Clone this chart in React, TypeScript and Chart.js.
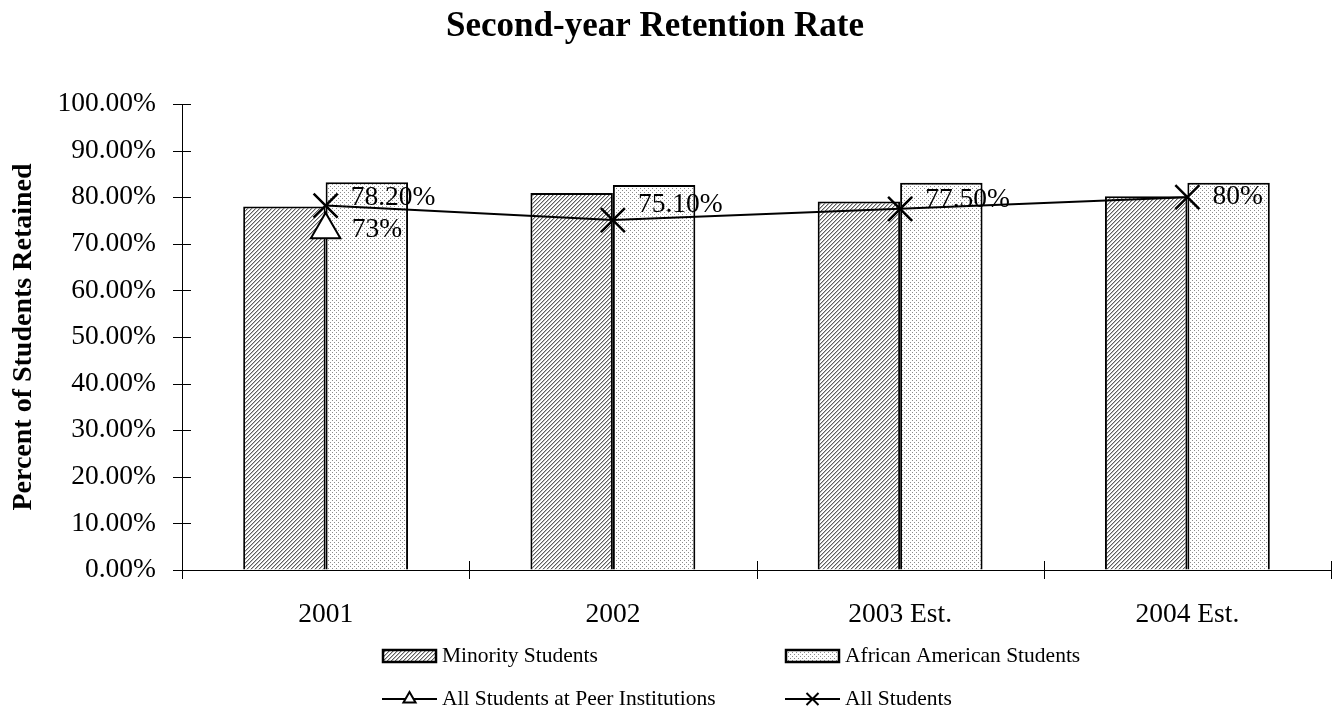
import { useEffect, useRef } from 'react';
import { Chart, registerables } from 'chart.js';

Chart.register(...registerables);

// ---- data ----
const categories = ['2001', '2002', '2003 Est.', '2004 Est.'];
const minorityStudents = [78.0, 80.9, 79.1, 80.2];
const africanAmericanStudents = [83.2, 82.6, 83.1, 83.1];
const peerInstitutions: (number | null)[] = [73, null, null, null];
const allStudents = [78.2, 75.1, 77.5, 80];
const allStudentsLabels = ['78.20%', '75.10%', '77.50%', '80%'];
const peerLabels = ['73%', '', '', ''];
const yMin = 0;
const yMax = 100;
const yStep = 10;

const seriesNames = [
  'Minority Students',
  'African American Students',
  'All Students at Peer Institutions',
  'All Students',
];

// ---- style ----
const SERIF = "'Liberation Serif', 'Times New Roman', Times, serif";
const labelNudgeAll = [-8, -15, -9, 0];
const labelNudgePeer = [0, 0, 0, 0];

function makePattern(ctx: CanvasRenderingContext2D, kind: 'hatch' | 'dots') {
  const c = document.createElement('canvas');
  c.width = 4;
  c.height = 4;
  const g = c.getContext('2d')!;
  g.fillStyle = '#ffffff';
  g.fillRect(0, 0, 4, 4);
  if (kind === 'hatch') {
    for (let i = 0; i < 4; i++) {
      g.fillStyle = '#5e5e5e';
      g.fillRect(i, 3 - i, 1, 1);
      g.fillStyle = '#bdbdbd';
      g.fillRect(i, (4 - i) % 4, 1, 1);
    }
  } else {
    g.fillStyle = '#8c8c8c';
    g.fillRect(0, 0, 1, 1);
    g.fillRect(2, 2, 1, 1);
  }
  return ctx.createPattern(c, 'repeat') as CanvasPattern;
}

function drawTriangle(ctx: CanvasRenderingContext2D, x: number, y: number, r: number) {
  ctx.beginPath();
  ctx.moveTo(x, y - r);
  ctx.lineTo(x + r * 0.866, y + r * 0.5);
  ctx.lineTo(x - r * 0.866, y + r * 0.5);
  ctx.closePath();
  ctx.fillStyle = '#fff';
  ctx.fill();
  ctx.stroke();
}

function drawX(ctx: CanvasRenderingContext2D, x: number, y: number, h: number) {
  ctx.beginPath();
  ctx.moveTo(x - h, y - h);
  ctx.lineTo(x + h, y + h);
  ctx.moveTo(x + h, y - h);
  ctx.lineTo(x - h, y + h);
  ctx.stroke();
}

export default function App() {
  const ref = useRef<HTMLCanvasElement>(null);

  useEffect(() => {
    const canvas = ref.current!;
    const ctx = canvas.getContext('2d')!;
    const hatch = makePattern(ctx, 'hatch');
    const dots = makePattern(ctx, 'dots');

    const decorPlugin = {
      id: 'decor',
      afterDraw(chart: any) {
        const c: CanvasRenderingContext2D = chart.ctx;
        const { left, bottom } = chart.chartArea;
        c.save();
        // crossing tick marks
        c.strokeStyle = '#000';
        c.lineWidth = 1;
        c.beginPath();
        const ys = chart.scales.y;
        ys.ticks.forEach((_t: any, i: number) => {
          const py = Math.round(ys.getPixelForTick(i)) + 0.5;
          c.moveTo(left - 9, py);
          c.lineTo(left + 9, py);
        });
        const xs = chart.scales.x;
        for (let i = 0; i <= categories.length; i++) {
          const px = Math.round(xs.getPixelForValue(i - 0.5)) + 0.5;
          c.moveTo(px, bottom - 9);
          c.lineTo(px, bottom + 9);
        }
        c.stroke();

        // title
        c.fillStyle = '#000';
        c.font = `bold 35px ${SERIF}`;
        c.textAlign = 'center';
        c.textBaseline = 'alphabetic';
        c.fillText('Second-year Retention Rate', 655, 36);

        // legend
        c.font = `21.5px ${SERIF}`;
        c.textAlign = 'left';
        c.textBaseline = 'middle';
        const cols = [382, 785];
        const rows = [656, 699];
        const boxW = 55;
        const items = [
          { kind: 'box', fill: hatch, col: 0, row: 0 },
          { kind: 'box', fill: dots, col: 1, row: 0 },
          { kind: 'tri', col: 0, row: 1 },
          { kind: 'x', col: 1, row: 1 },
        ];
        items.forEach((it, i) => {
          const x = cols[it.col];
          const y = rows[it.row];
          c.strokeStyle = '#000';
          if (it.kind === 'box') {
            c.fillStyle = it.fill as CanvasPattern;
            c.fillRect(x, y - 7, boxW, 14);
            c.lineWidth = 2.5;
            c.strokeRect(x + 1, y - 6, boxW - 2, 12);
          } else {
            c.lineWidth = 2;
            c.beginPath();
            c.moveTo(x, y);
            c.lineTo(x + boxW, y);
            c.stroke();
            if (it.kind === 'tri') drawTriangle(c, x + boxW / 2, y, 7);
            else drawX(c, x + boxW / 2, y, 6);
          }
          c.fillStyle = '#000';
          c.fillText(seriesNames[i], x + boxW + 5, y);
        });
        c.restore();
      },
      afterDatasetsDraw(chart: any) {
        const c: CanvasRenderingContext2D = chart.ctx;
        c.save();
        c.fillStyle = '#000';
        c.font = `27.5px ${SERIF}`;
        c.textAlign = 'left';
        c.textBaseline = 'middle';
        const peerMeta = chart.getDatasetMeta(2);
        peerMeta.data.forEach((pt: any, i: number) => {
          if (peerLabels[i]) c.fillText(peerLabels[i], pt.x + 26, pt.y + labelNudgePeer[i]);
        });
        const allMeta = chart.getDatasetMeta(3);
        allMeta.data.forEach((pt: any, i: number) => {
          c.fillText(allStudentsLabels[i], pt.x + 25, pt.y + labelNudgeAll[i]);
        });
        c.restore();
      },
    };

    const chart = new Chart(canvas, {
      type: 'bar',
      data: {
        labels: categories,
        datasets: [
          {
            type: 'bar',
            label: seriesNames[0],
            data: minorityStudents,
            backgroundColor: hatch,
            borderColor: '#000',
            borderWidth: 2,
            order: 2,
          },
          {
            type: 'bar',
            label: seriesNames[1],
            data: africanAmericanStudents,
            backgroundColor: dots,
            borderColor: '#000',
            borderWidth: 2,
            order: 2,
          },
          {
            type: 'line',
            label: seriesNames[2],
            data: peerInstitutions,
            borderColor: '#000',
            backgroundColor: '#fff',
            borderWidth: 2,
            pointStyle: 'triangle',
            pointRadius: 17,
            pointBorderWidth: 2,
            pointBackgroundColor: '#fff',
            pointBorderColor: '#000',
            order: 1,
          },
          {
            type: 'line',
            label: seriesNames[3],
            data: allStudents,
            borderColor: '#000',
            backgroundColor: '#000',
            borderWidth: 2,
            pointStyle: 'crossRot',
            pointRadius: 17,
            pointBorderWidth: 2.5,
            pointBorderColor: '#000',
            tension: 0,
            order: 0,
          },
        ] as any,
      },
      options: {
        animation: false,
        responsive: true,
        maintainAspectRatio: false,
        layout: { autoPadding: false, padding: { left: 0, right: 7, top: 104, bottom: 83 } },
        datasets: {
          bar: { categoryPercentage: 0.574, barPercentage: 1 },
        } as any,
        plugins: {
          legend: { display: false },
          title: { display: false },
          tooltip: { enabled: false },
        },
        scales: {
          x: {
            grid: { display: true, drawOnChartArea: false, drawTicks: false, offset: true },
            border: { display: true, color: '#000', width: 1 },
            ticks: {
              color: '#000',
              font: { family: SERIF, size: 27.5 },
              padding: 28,
              maxRotation: 0,
            },
            afterFit: (s: any) => {
              s.height = 60;
              s.paddingLeft = 0;
              s.paddingRight = 0;
            },
          },
          y: {
            min: yMin,
            max: yMax,
            grid: { display: true, drawOnChartArea: false, drawTicks: false },
            border: { display: true, color: '#000', width: 1 },
            ticks: {
              stepSize: yStep,
              color: '#000',
              font: { family: SERIF, size: 27.5 },
              padding: 26,
              callback: (v: any) => Number(v).toFixed(2) + '%',
            },
            title: {
              display: true,
              text: 'Percent of Students Retained',
              color: '#000',
              font: { family: SERIF, size: 28, weight: 'bold' },
              padding: { top: 7, bottom: 0 },
            },
            afterFit: (s: any) => {
              s.width = 182;
            },
          },
        },
      },
      plugins: [decorPlugin],
    });

    return () => chart.destroy();
  }, []);

  return (
    <div style={{ position: 'absolute', left: 0, top: 0, width: 1338, height: 713, background: '#fff' }}>
      <canvas ref={ref} />
    </div>
  );
}
